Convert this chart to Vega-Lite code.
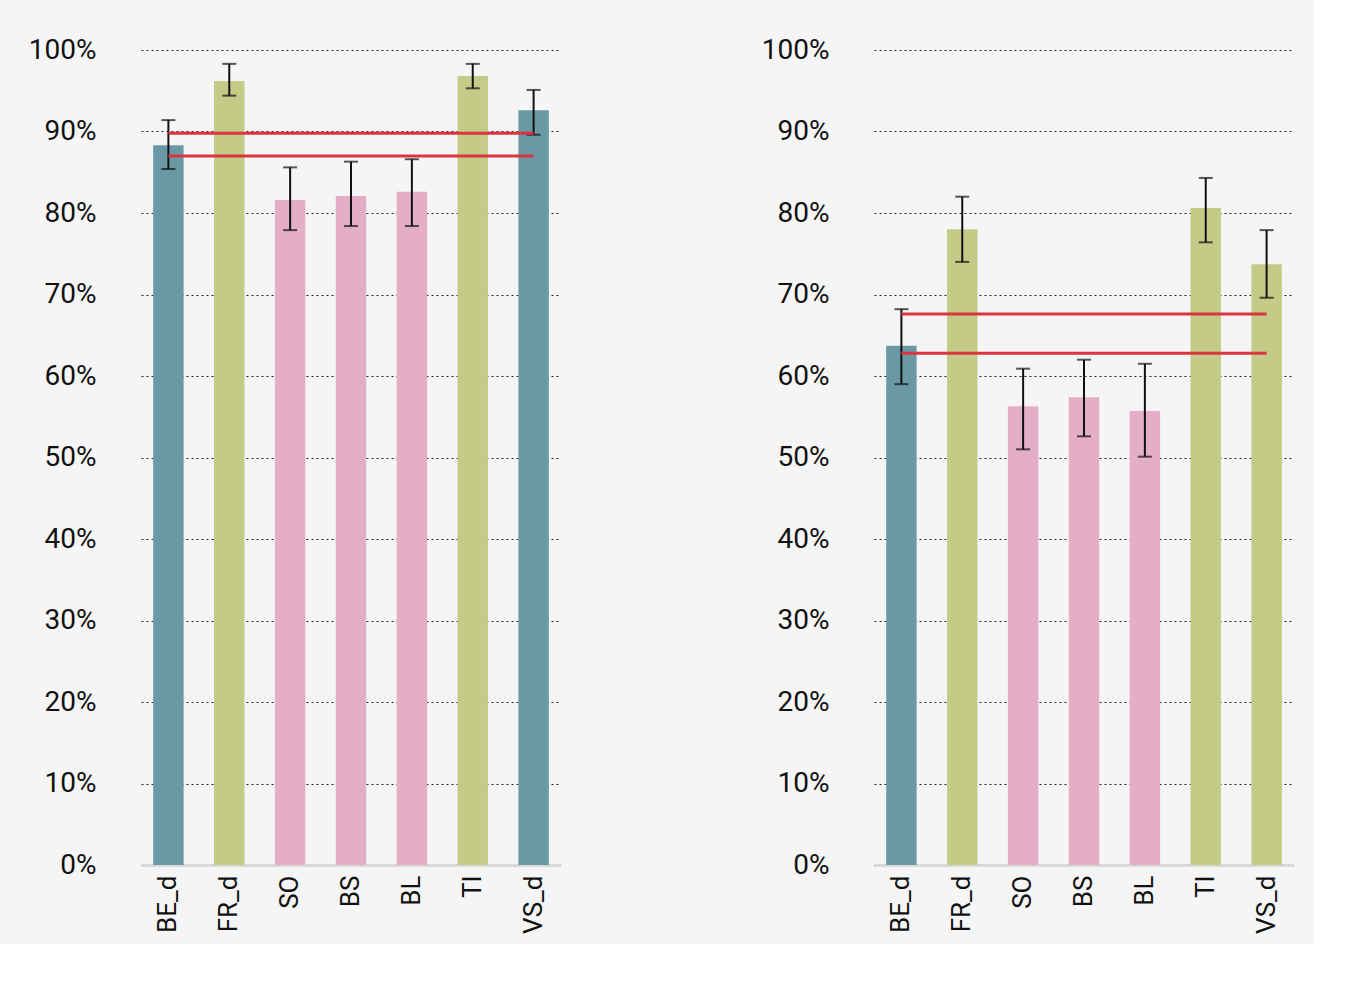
{
  "$schema": "https://vega.github.io/schema/vega-lite/v6.json",
  "background": "#f5f5f5",
  "padding": {"left": 28, "top": 36, "right": 20, "bottom": 10},
  "spacing": 200,
  "datasets": {
    "bars": [
      {"panel": "A", "cat": "BE_d", "grp": "d", "value": 88.3, "lo": 85.4, "hi": 91.4},
      {"panel": "A", "cat": "FR_d", "grp": "f", "value": 96.2, "lo": 94.4, "hi": 98.3},
      {"panel": "A", "cat": "SO", "grp": "s", "value": 81.6, "lo": 77.9, "hi": 85.6},
      {"panel": "A", "cat": "BS", "grp": "s", "value": 82.1, "lo": 78.4, "hi": 86.3},
      {"panel": "A", "cat": "BL", "grp": "s", "value": 82.6, "lo": 78.4, "hi": 86.6},
      {"panel": "A", "cat": "TI", "grp": "f", "value": 96.8, "lo": 95.3, "hi": 98.3},
      {"panel": "A", "cat": "VS_d", "grp": "d", "value": 92.6, "lo": 89.6, "hi": 95.1},
      {"panel": "B", "cat": "BE_d", "grp": "d", "value": 63.7, "lo": 59.0, "hi": 68.2},
      {"panel": "B", "cat": "FR_d", "grp": "f", "value": 78.0, "lo": 74.0, "hi": 82.0},
      {"panel": "B", "cat": "SO", "grp": "s", "value": 56.3, "lo": 51.0, "hi": 60.9},
      {"panel": "B", "cat": "BS", "grp": "s", "value": 57.4, "lo": 52.6, "hi": 62.0},
      {"panel": "B", "cat": "BL", "grp": "s", "value": 55.7, "lo": 50.1, "hi": 61.5},
      {"panel": "B", "cat": "TI", "grp": "f", "value": 80.6, "lo": 76.4, "hi": 84.3},
      {"panel": "B", "cat": "VS_d", "grp": "f", "value": 73.7, "lo": 69.6, "hi": 77.9}
    ],
    "refs": [
      {"panel": "A", "line": "hi", "cat": "BE_d", "value": 89.8},
      {"panel": "A", "line": "hi", "cat": "VS_d", "value": 89.8},
      {"panel": "A", "line": "lo", "cat": "BE_d", "value": 87.0},
      {"panel": "A", "line": "lo", "cat": "VS_d", "value": 87.0},
      {"panel": "B", "line": "hi", "cat": "BE_d", "value": 67.6},
      {"panel": "B", "line": "hi", "cat": "VS_d", "value": 67.6},
      {"panel": "B", "line": "lo", "cat": "BE_d", "value": 62.8},
      {"panel": "B", "line": "lo", "cat": "VS_d", "value": 62.8}
    ]
  },
  "config": {
    "font": "Roboto",
    "view": {"stroke": null},
    "axisX": {
      "domainColor": "#d9d9d9", "domainWidth": 3, "ticks": false, "labelAngle": -90,
      "labelFontSize": 26, "labelColor": "#111", "labelPadding": 10, "title": null
    }
  },
  "hconcat": [
    {
      "width": 420, "height": 815,
      "layer": [
        {
          "data": {"name": "bars"},
          "transform": [{"filter": "datum.panel == 'A'"}],
          "layer": [
            {"mark": {"type": "bar"},
             "encoding": {
               "x": {"field": "cat", "type": "nominal", "sort": null, "scale": {"paddingInner": 0.5, "paddingOuter": 0.2}},
               "y": {"field": "value", "type": "quantitative", "scale": {"domain": [0, 100]},
                 "axis": {"grid": true, "gridColor": "#222", "gridDash": [2, 3], "gridWidth": 1.2,
                   "domain": false, "ticks": false, "labelFontSize": 28, "labelPadding": 45,
                   "labelColor": "#111", "title": null, "values": [0,10,20,30,40,50,60,70,80,90,100],
                   "labelExpr": "datum.value + '%'"}},
               "color": {"field": "grp", "type": "nominal", "legend": null,
                 "scale": {"domain": ["d", "f", "s"], "range": ["#6a98a5", "#c4cb87", "#e4afc6"]}}
             }},
            {"mark": {"type": "rule", "color": "#111", "strokeWidth": 2},
             "encoding": {"x": {"field": "cat", "type": "nominal", "sort": null}, "y": {"field": "lo", "type": "quantitative"}, "y2": {"field": "hi"}}},
            {"mark": {"type": "tick", "color": "#111", "thickness": 2, "size": 14},
             "encoding": {"x": {"field": "cat", "type": "nominal", "sort": null}, "y": {"field": "lo", "type": "quantitative"}}},
            {"mark": {"type": "tick", "color": "#111", "thickness": 2, "size": 14},
             "encoding": {"x": {"field": "cat", "type": "nominal", "sort": null}, "y": {"field": "hi", "type": "quantitative"}}}
          ]
        },
        {
          "data": {"name": "refs"},
          "transform": [{"filter": "datum.panel == 'A'"}],
          "mark": {"type": "line", "color": "#d9363e", "strokeWidth": 3},
          "encoding": {
            "x": {"field": "cat", "type": "nominal", "sort": null},
            "y": {"field": "value", "type": "quantitative"},
            "detail": {"field": "line"}
          }
        }
      ]
    },
    {
      "width": 420, "height": 815,
      "layer": [
        {
          "data": {"name": "bars"},
          "transform": [{"filter": "datum.panel == 'B'"}],
          "layer": [
            {"mark": {"type": "bar"},
             "encoding": {
               "x": {"field": "cat", "type": "nominal", "sort": null, "scale": {"paddingInner": 0.5, "paddingOuter": 0.2}},
               "y": {"field": "value", "type": "quantitative", "scale": {"domain": [0, 100]},
                 "axis": {"grid": true, "gridColor": "#222", "gridDash": [2, 3], "gridWidth": 1.2,
                   "domain": false, "ticks": false, "labelFontSize": 28, "labelPadding": 45,
                   "labelColor": "#111", "title": null, "values": [0,10,20,30,40,50,60,70,80,90,100],
                   "labelExpr": "datum.value + '%'"}},
               "color": {"field": "grp", "type": "nominal", "legend": null,
                 "scale": {"domain": ["d", "f", "s"], "range": ["#6a98a5", "#c4cb87", "#e4afc6"]}}
             }},
            {"mark": {"type": "rule", "color": "#111", "strokeWidth": 2},
             "encoding": {"x": {"field": "cat", "type": "nominal", "sort": null}, "y": {"field": "lo", "type": "quantitative"}, "y2": {"field": "hi"}}},
            {"mark": {"type": "tick", "color": "#111", "thickness": 2, "size": 14},
             "encoding": {"x": {"field": "cat", "type": "nominal", "sort": null}, "y": {"field": "lo", "type": "quantitative"}}},
            {"mark": {"type": "tick", "color": "#111", "thickness": 2, "size": 14},
             "encoding": {"x": {"field": "cat", "type": "nominal", "sort": null}, "y": {"field": "hi", "type": "quantitative"}}}
          ]
        },
        {
          "data": {"name": "refs"},
          "transform": [{"filter": "datum.panel == 'B'"}],
          "mark": {"type": "line", "color": "#d9363e", "strokeWidth": 3},
          "encoding": {
            "x": {"field": "cat", "type": "nominal", "sort": null},
            "y": {"field": "value", "type": "quantitative"},
            "detail": {"field": "line"}
          }
        }
      ]
    }
  ]
}
